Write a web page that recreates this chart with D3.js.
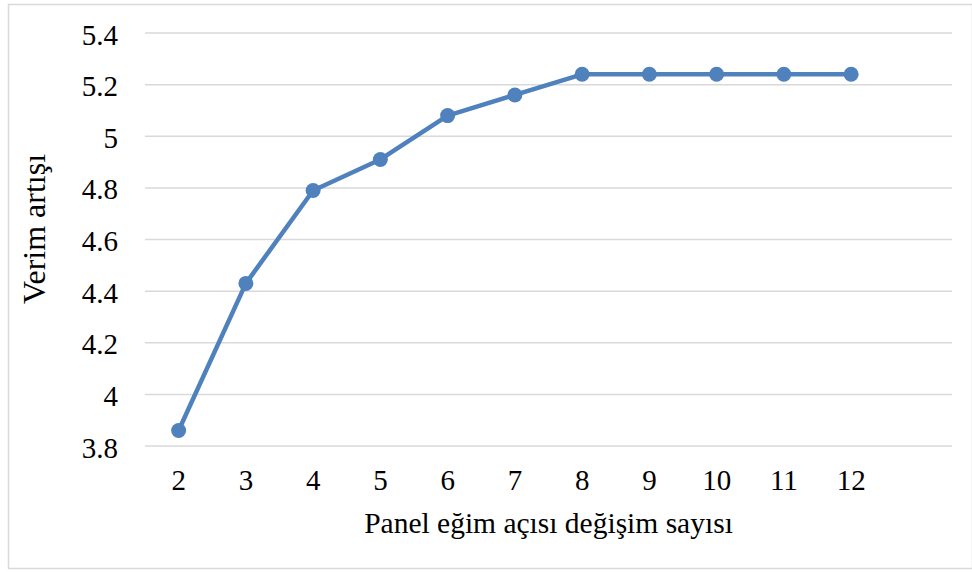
<!DOCTYPE html>
<html>
<head>
<meta charset="utf-8">
<script src="https://cdn.jsdelivr.net/npm/d3@7"></script>
<style>
  html, body { margin: 0; padding: 0; background: #fff; }
  svg { display: block; }
  text { font-family: "Liberation Serif", "Times New Roman", serif; fill: #000; }
</style>
</head>
<body>
<svg id="chart" width="972" height="572"></svg>
<script>
// Number of panel tilt-angle changes and the resulting efficiency gain
const categories = ["2", "3", "4", "5", "6", "7", "8", "9", "10", "11", "12"];
const efficiency = [3.86, 4.43, 4.79, 4.91, 5.08, 5.16, 5.24, 5.24, 5.24, 5.24, 5.24];
const yTicks = [3.8, 4.0, 4.2, 4.4, 4.6, 4.8, 5.0, 5.2, 5.4];
const xTitle = "Panel eğim açısı değişim sayısı";
const yTitle = "Verim artışı";

const svg = d3.select("#chart");
const W = 972, H = 572;
const plotLeft = 145, plotRight = 952, plotTop = 33, plotBottom = 446;
const fontSize = 29;

// outer chart frame
svg.append("rect")
  .attr("x", 8.5).attr("y", 4.5)
  .attr("width", W - 8).attr("height", H - 8)
  .attr("fill", "#fff").attr("stroke", "#d9d9d9").attr("stroke-width", 1.5);

// category slots: one trailing empty slot keeps the plot wider than the data
const slots = categories.concat([""]);
const x = d3.scaleBand().domain(slots.map((d, i) => i)).range([plotLeft, plotRight]).padding(0);
const y = d3.scaleLinear().domain([3.8, 5.4]).range([plotBottom, plotTop]);
const cx = i => x(i) + x.bandwidth() / 2;

// horizontal gridlines
svg.append("g").selectAll("line").data(yTicks).join("line")
  .attr("x1", plotLeft).attr("x2", plotRight)
  .attr("y1", d => y(d)).attr("y2", d => y(d))
  .attr("stroke", "#d9d9d9").attr("stroke-width", 1.5);

// y axis labels
const fmt = d => (Math.round(d * 10) / 10).toString();
svg.append("g").selectAll("text").data(yTicks).join("text")
  .attr("x", 118).attr("y", d => y(d))
  .attr("dy", "0.4em")
  .attr("text-anchor", "end")
  .attr("font-size", fontSize)
  .text(fmt);

// x axis labels
svg.append("g").selectAll("text").data(categories).join("text")
  .attr("x", (d, i) => cx(i)).attr("y", 490)
  .attr("text-anchor", "middle")
  .attr("font-size", fontSize)
  .text(d => d);

// axis titles
svg.append("text")
  .attr("x", (plotLeft + plotRight) / 2).attr("y", 533)
  .attr("text-anchor", "middle")
  .attr("font-size", 29.5)
  .text(xTitle);

svg.append("text")
  .attr("transform", "translate(45,229) rotate(-90)")
  .attr("text-anchor", "middle")
  .attr("font-size", 32)
  .text(yTitle);

// series line and markers
const color = "#4f81bd";
const line = d3.line().x((d, i) => cx(i)).y(d => y(d));
svg.append("path")
  .datum(efficiency)
  .attr("d", line)
  .attr("fill", "none")
  .attr("stroke", color)
  .attr("stroke-width", 4.5)
  .attr("stroke-linejoin", "round");

svg.append("g").selectAll("circle").data(efficiency).join("circle")
  .attr("cx", (d, i) => cx(i)).attr("cy", d => y(d))
  .attr("r", 7.5)
  .attr("fill", color);
</script>
</body>
</html>
